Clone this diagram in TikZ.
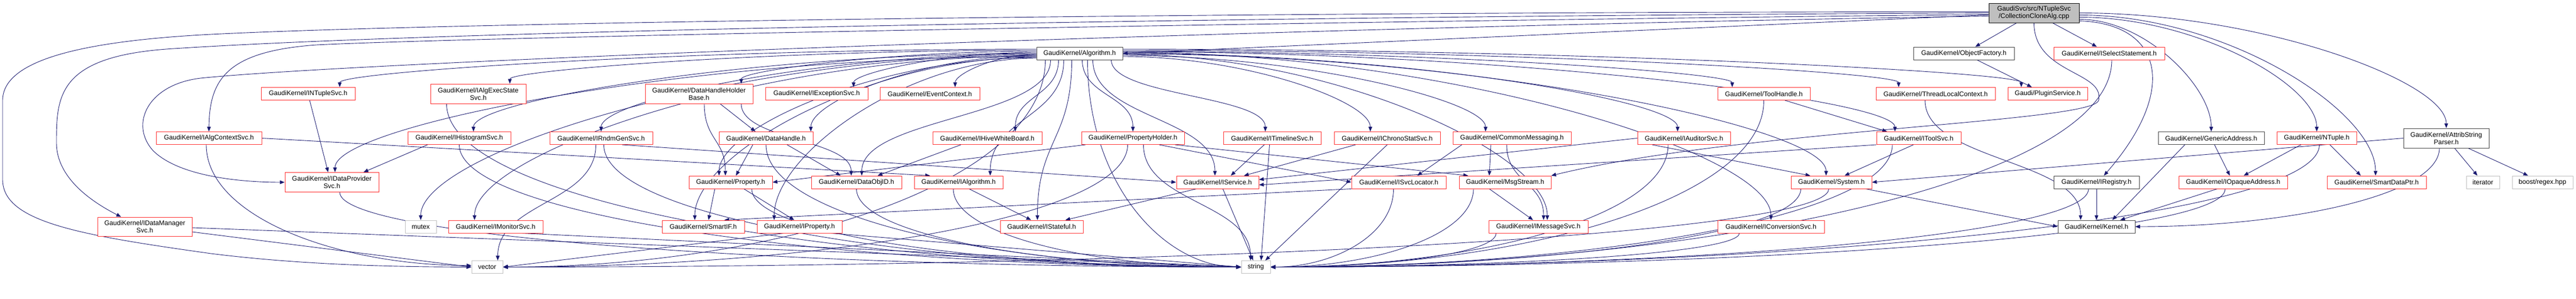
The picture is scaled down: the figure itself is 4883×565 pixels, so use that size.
\documentclass[tikz,border=0pt]{standalone}
\usepackage{fontspec}
\setmainfont{Liberation Sans}
\usetikzlibrary{arrows.meta,calc}
\pgfdeclarelayer{bgzero}
\pgfdeclarelayer{edges}
\pgfsetlayers{bgzero,edges,main}
\definecolor{edgecol}{HTML}{191970}
\definecolor{redb}{HTML}{FF2A2A}
\definecolor{grayb}{HTML}{BFBFBF}
\definecolor{blackb}{HTML}{404040}
\definecolor{rootfill}{HTML}{BFBFBF}
\tikzset{
 box/.style={draw, fill=white, line width=1pt, inner xsep=3pt, inner ysep=0pt, minimum height=24pt, font=\fontsize{12.6pt}{14pt}\selectfont, align=center, text=black},
 rbox/.style={box, draw=redb},
 kbox/.style={box, draw=blackb},
 gbox/.style={box, draw=grayb},
 rootbox/.style={box, draw=black, fill=rootfill},
 edge/.style={draw=edgecol, line width=0.9pt, -{Triangle[length=9pt,width=7pt]}},
}
\newcommand\edS[2]{\draw[edge] (#1) -- (#2);}
\newcommand\edH[2]{\draw[edge] let \p1=(#1),\p2=(#2) in (\p1) .. controls ({0.5*\x1+0.5*\x2},\y1) and (\x2,{0.4*\y1+0.6*\y2}) .. (\p2);}
\newcommand\edV[2]{\draw[edge] let \p1=(#1),\p2=(#2) in (\p1) .. controls (\x1,{0.4*\y1+0.6*\y2}) and ({0.5*\x1+0.5*\x2},\y2) .. (\p2);}
\newcommand\edC[2]{\draw[edge] let \p1=(#1),\p2=(#2) in (\p1) .. controls (\x1,{0.5*\y1+0.5*\y2}) and (\x2,{0.5*\y1+0.5*\y2}) .. (\p2);}
\begin{document}
\begin{tikzpicture}[x=1pt,y=-1pt]
\useasboundingbox (0,0) rectangle (4883,565);
\begin{pgfonlayer}{bgzero}
\fill[white] (0,0) rectangle (4883,565);
\end{pgfonlayer}
% row 0/1
\node[rootbox, minimum width=171pt, minimum height=37pt] (root) at (3855.5,24.5) {GaudiSvc/src/NTupleSvc\\/CollectionCloneAlg.cpp};
\node[kbox, minimum width=163pt] (alg) at (2046.5,101) {GaudiKernel/Algorithm.h};
\node[kbox, minimum width=191pt] (objf) at (3722.5,101) {GaudiKernel/ObjectFactory.h};
\node[rbox, minimum width=210pt] (isel) at (3998,101) {GaudiKernel/ISelectStatement.h};
% row 2
\node[rbox, minimum width=178pt] (intup) at (584,177.5) {GaudiKernel/INTupleSvc.h};
\node[rbox, minimum width=181pt, minimum height=37pt] (iaes) at (906.5,177.5) {GaudiKernel/IAlgExecState\\Svc.h};
\node[rbox, minimum width=204pt, minimum height=37pt] (dhhb) at (1325,177.5) {GaudiKernel/DataHandleHolder\\Base.h};
\node[rbox, minimum width=194pt] (iexc) at (1548,177.5) {GaudiKernel/IExceptionSvc.h};
\node[rbox, minimum width=189pt] (evc) at (1762.5,177.5) {GaudiKernel/EventContext.h};
\node[rbox, minimum width=175pt] (toolh) at (3343.5,177.5) {GaudiKernel/ToolHandle.h};
\node[rbox, minimum width=226pt] (tlc) at (3669,177.5) {GaudiKernel/ThreadLocalContext.h};
\node[rbox, minimum width=151pt] (plug) at (3881.5,177.5) {Gaudi/PluginService.h};
% row 3
\node[rbox, minimum width=200pt] (iacs) at (396,261.5) {GaudiKernel/IAlgContextSvc.h};
\node[rbox, minimum width=195pt] (ihist) at (870.5,261.5) {GaudiKernel/IHistogramSvc.h};
\node[rbox, minimum width=195pt] (irndm) at (1139.5,261.5) {GaudiKernel/IRndmGenSvc.h};
\node[rbox, minimum width=178pt] (dh) at (1452,261.5) {GaudiKernel/DataHandle.h};
\node[rbox, minimum width=207pt] (ihwb) at (1871.5,261.5) {GaudiKernel/IHiveWhiteBoard.h};
\node[rbox, minimum width=195pt] (ph) at (2147.5,261.5) {GaudiKernel/PropertyHolder.h};
\node[rbox, minimum width=185pt] (itl) at (2411.5,261.5) {GaudiKernel/ITimelineSvc.h};
\node[rbox, minimum width=201pt] (ichr) at (2629.5,261.5) {GaudiKernel/IChronoStatSvc.h};
\node[rbox, minimum width=224pt] (cmsg) at (2866,261.5) {GaudiKernel/CommonMessaging.h};
\node[rbox, minimum width=176pt] (iaud) at (3192,261.5) {GaudiKernel/IAuditorSvc.h};
\node[rbox, minimum width=160pt] (itool) at (3637,261.5) {GaudiKernel/IToolSvc.h};
\node[kbox, minimum width=201pt] (gen) at (4191.5,261.5) {GaudiKernel/GenericAddress.h};
\node[rbox, minimum width=151pt] (ntup) at (4391.5,261.5) {GaudiKernel/NTuple.h};
\node[kbox, minimum width=162pt, minimum height=37pt] (asp) at (4637,261.5) {GaudiKernel/AttribString\\Parser.h};
% row 4
\node[rbox, minimum width=178pt, minimum height=37pt] (idps) at (629,345) {GaudiKernel/IDataProvider\\Svc.h};
\node[rbox, minimum width=158pt] (prop) at (1385,345) {GaudiKernel/Property.h};
\node[rbox, minimum width=171pt] (doid) at (1623.5,345) {GaudiKernel/DataObjID.h};
\node[rbox, minimum width=168pt] (ialg) at (1817,345) {GaudiKernel/IAlgorithm.h};
\node[rbox, minimum width=156pt] (isvc) at (2308,345) {GaudiKernel/IService.h};
\node[rbox, minimum width=179pt] (iloc) at (2651.5,345) {GaudiKernel/ISvcLocator.h};
\node[rbox, minimum width=174pt] (msg) at (2853,345) {GaudiKernel/MsgStream.h};
\node[rbox, minimum width=153pt] (sys) at (3471.5,345) {GaudiKernel/System.h};
\node[kbox, minimum width=162pt] (ireg) at (3974,345) {GaudiKernel/IRegistry.h};
\node[rbox, minimum width=206pt] (iopq) at (4233,345) {GaudiKernel/IOpaqueAddress.h};
\node[rbox, minimum width=188pt] (sdp) at (4505,345) {GaudiKernel/SmartDataPtr.h};
\node[gbox, minimum width=63pt] (iter) at (4706.5,345) {iterator};
\node[gbox, minimum width=115pt] (regex) at (4819.5,345) {boost/regex.hpp};
% row 5
\node[rbox, minimum width=179pt, minimum height=36pt] (idms) at (274.5,429) {GaudiKernel/IDataManager\\Svc.h};
\node[gbox, minimum width=59pt] (mutex) at (797.5,429) {mutex};
\node[rbox, minimum width=179pt] (imon) at (939.5,429) {GaudiKernel/IMonitorSvc.h};
\node[rbox, minimum width=156pt] (sif) at (1333,429) {GaudiKernel/SmartIF.h};
\node[rbox, minimum width=161pt] (iprop) at (1515.5,429) {GaudiKernel/IProperty.h};
\node[rbox, minimum width=157pt] (istf) at (1974.5,429) {GaudiKernel/IStateful.h};
\node[rbox, minimum width=188pt] (imsg) at (2916,429) {GaudiKernel/IMessageSvc.h};
\node[rbox, minimum width=202pt] (iconv) at (3357,429) {GaudiKernel/IConversionSvc.h};
\node[kbox, minimum width=146pt] (kern) at (3974,429) {GaudiKernel/Kernel.h};
% row 6
\node[gbox, minimum width=59pt] (vec) at (923.5,505.5) {vector};
\node[gbox, minimum width=55pt] (str) at (2380.5,505.5) {string};

\begin{pgfonlayer}{edges}
% root
\draw[edge] (root) -- (alg.east);
\edS{root}{objf}
\edS{root}{isel}
\draw[edge] (root.south) .. controls (3856,140) and (3990,135) .. (3978,190) .. controls (3968,232) and (3300,245) .. (msg.north east);
\edH{root.east}{asp.north}
\edH{[yshift=-4pt]root.east}{[xshift=-2pt]sdp.north}
\edH{[yshift=-8pt]root.east}{ntup.north}
\edH{[yshift=-12pt]root.east}{gen.north}
\draw[edge] ([yshift=-15pt]root.east) .. controls (4100,45) and (4130,170) .. ([xshift=14pt]ireg.north);
\draw[edge] ([yshift=2pt]root.west) .. controls (2500,22) and (900,40) .. (400,65) .. controls (150,78) and (5,115) .. (5,190) -- (5,340) .. controls (5,420) and (150,445) .. (400,480) .. controls (600,505) and (800,505) .. (vec.west);
\draw[edge] (root.west) .. controls (2500,30) and (900,55) .. (330,92) .. controls (110,105) and (107,180) .. (107,270) .. controls (107,340) and (180,385) .. ([xshift=-45pt]idms.north);
\draw[edge] ([yshift=-3pt]root.west) .. controls (2500,40) and (900,70) .. (600,85) .. controls (430,97) and (397,150) .. (iacs.north);
\draw[edge] ([yshift=-6pt]root.west) .. controls (2500,50) and (700,115) .. (380,148) .. controls (280,160) and (245,235) .. (290,285) .. controls (340,335) and (460,345) .. (idps.west);
\edS{[xshift=25pt]objf.south}{[xshift=-30pt]plug.north}
\edV{[xshift=5pt]isel.south}{str.east}
% Algorithm, left side
\edH{[yshift=8pt]alg.west}{[xshift=60pt]intup.north}
\edH{[yshift=6pt]alg.west}{[xshift=60pt]iaes.north}
\edH{[yshift=4pt]alg.west}{[xshift=80pt]dhhb.north}
\edH{[yshift=2pt]alg.west}{[xshift=70pt]iexc.north}
\edH{[yshift=-2pt]alg.west}{[xshift=48pt]evc.north}
\edH{alg.west}{[xshift=27pt]ihist.north}
\edH{[yshift=-1pt]alg.west}{irndm.north}
\edH{[yshift=-4pt]alg.west}{[xshift=85pt]dh.north}
\edH{[yshift=-6pt]alg.west}{[xshift=6pt]idps.north}
\edH{[yshift=-8pt]alg.west}{[xshift=-22pt]prop.north}
\edH{[yshift=-3pt]alg.west}{mutex.north}
\edH{[yshift=-5pt]alg.west}{[xshift=-40pt]imon.north}
\edH{[yshift=-7pt]alg.west}{[xshift=-16pt]sif.north}
\edH{[yshift=-9pt]alg.west}{[xshift=-48pt]iprop.north}
% Algorithm, below
\edC{[xshift=-40pt]alg.south}{[xshift=53pt]ihwb.north}
\edC{[xshift=-55pt]alg.south}{[xshift=10pt]doid.north}
\edC{[xshift=-30pt]alg.south}{[xshift=60pt]ialg.north}
\edC{[xshift=-15pt]alg.south}{[xshift=-8pt]istf.north}
\edC{[xshift=5pt]alg.south}{ph.north}
\edC{[xshift=25pt]alg.south}{[xshift=-5pt]isvc.north}
\edC{[xshift=60pt]alg.south}{[xshift=-13pt]itl.north}
\edV{[xshift=-65pt]alg.south}{vec.east}
\edV{[xshift=15pt]alg.south}{str.west}
% Algorithm, right side
\edH{[yshift=-6pt]alg.east}{[xshift=-32pt]ichr.north}
\edH{[yshift=-4pt]alg.east}{[xshift=-50pt]cmsg.north}
\edH{[yshift=-2pt]alg.east}{[xshift=17pt]imsg.north}
\edH{alg.east}{[xshift=-12pt]iaud.north}
\edH{[yshift=2pt]alg.east}{iconv.north}
\edH{[yshift=-1pt]alg.east}{[xshift=-10pt]sys.north}
\edH{[yshift=4pt]alg.east}{[xshift=-60pt]toolh.north}
\edH{[yshift=3pt]alg.east}{[xshift=-45pt]itool.north}
\edH{[yshift=6pt]alg.east}{[xshift=-70pt]tlc.north}
\edH{[yshift=8pt]alg.east}{[xshift=-50pt]plug.north}
% left cluster
\edS{[xshift=3pt]intup.south}{[xshift=-7pt]idps.north}
\edV{[xshift=-60pt]iaes.south}{str.west}
\edS{iacs.east}{[xshift=-54pt]ialg.north}
\edV{[xshift=-5pt]iacs.south}{[yshift=3pt]vec.west}
\edS{[xshift=-60pt]ihist.south}{[xshift=60pt]idps.north}
\edV{ihist.south}{str.west}
\edC{[xshift=-10pt]irndm.south}{[xshift=20pt]vec.north}
\edV{[xshift=5pt]irndm.south}{str.west}
\edS{[xshift=40pt]irndm.south}{isvc.west}
\edS{[xshift=40pt]dhhb.south}{[xshift=-20pt]dh.north}
\edC{[xshift=10pt]dhhb.south}{[xshift=-10pt]prop.north}
\edC{[xshift=80pt]dhhb.south}{[xshift=-10pt]doid.north}
\edS{[xshift=-25pt]dh.south}{[xshift=10pt]prop.north}
\edS{[xshift=40pt]dh.south}{[xshift=-30pt]doid.north}
\edV{dh.south}{str.west}
\edS{[xshift=-30pt]prop.south}{[xshift=10pt]sif.north}
\edS{[xshift=25pt]prop.south}{[xshift=-10pt]iprop.north}
\edV{[xshift=40pt]prop.south}{str.west}
\edS{[xshift=-30pt]iprop.south}{vec.east}
\edS{[xshift=60pt]iprop.south}{str.west}
\edV{doid.south}{str.west}
\edS{[xshift=20pt]ialg.south}{[xshift=-20pt]istf.north}
\edV{[xshift=-10pt]ialg.south}{str.west}
\edS{[xshift=-50pt]ihwb.south}{[xshift=40pt]doid.north}
\edV{[xshift=15pt]idps.south}{str.west}
\edS{[yshift=-2pt]idms.east}{str.west}
\edS{[yshift=-10pt]idms.east}{vec.west}
\edS{[xshift=50pt]imon.south}{str.west}
% middle cluster
\edS{[xshift=-90pt]ph.south}{prop.east}
\edS{[xshift=50pt]ph.south}{iloc.west}
\edS{[xshift=80pt]ph.south}{[xshift=-70pt]msg.north}
\edC{[xshift=20pt]ph.south}{[xshift=-10pt]str.north}
\edV{[xshift=-10pt]ph.south}{vec.east}
\edS{[xshift=-40pt]isvc.south}{[xshift=45pt]istf.north}
\edS{[xshift=10pt]isvc.south}{[xshift=-5pt]str.north}
\edS{[xshift=-15pt]itl.south}{[xshift=25pt]isvc.north}
\edS{[xshift=-5pt]itl.south}{[xshift=10pt]str.north}
\edS{[xshift=-60pt]ichr.south}{[xshift=50pt]isvc.north}
\edS{ichr.south}{[xshift=18pt]str.north}
\edS{[xshift=-95pt]cmsg.south}{[xshift=35pt]iloc.north}
\edS{[xshift=-40pt]cmsg.south}{[xshift=-30pt]msg.north}
\edC{[xshift=-10pt]cmsg.south}{[xshift=10pt]imsg.north}
\edV{[xshift=-10pt]iloc.south}{str.east}
\edS{iloc.south west}{[xshift=40pt]sif.north}
\edS{[xshift=-30pt]msg.south}{[xshift=-10pt]imsg.north}
\edV{[xshift=-60pt]msg.south}{str.east}
\edV{[xshift=-80pt]imsg.south}{str.east}
\edS{iaud.west}{[yshift=5pt]isvc.east}
\edS{[xshift=-60pt]iaud.south}{[xshift=-40pt]sys.north}
\edV{[xshift=-30pt]iaud.south}{str.east}
\edS{itool.south west}{[yshift=-5pt]isvc.east}
\edS{[xshift=-10pt]itool.south}{[xshift=25pt]sys.north}
\edV{[xshift=-50pt]itool.south}{str.east}
\edS{[xshift=40pt]toolh.south}{[xshift=-60pt]itool.north}
\edV{toolh.south}{str.east}
% right cluster
\edC{[xshift=-20pt]tlc.south}{[xshift=-30pt]kern.north}
\edS{[xshift=65pt]sys.south}{kern.west}
\edV{[xshift=-58pt]sys.south}{str.east}
\edV{[xshift=-5pt]sys.south}{vec.east}
\edV{[xshift=-60pt]iconv.south}{str.east}
\edS{ireg}{kern}
\edV{[xshift=-15pt]ireg.south}{str.east}
\edS{[xshift=-50pt]gen.south}{[xshift=30pt]kern.north}
\edS{gen}{iopq}
\edS{[xshift=-30pt]iopq.south}{[xshift=45pt]kern.north}
\edV{[xshift=-15pt]iopq.south}{str.east}
\edS{[xshift=-30pt]ntup.south}{[xshift=20pt]iopq.north}
\edS{[xshift=25pt]ntup.south}{[xshift=-30pt]sdp.north}
\edV{[xshift=5pt]ntup.south}{str.east}
\edS{asp}{iter}
\edS{asp}{regex}
\edV{[xshift=-13pt]asp.south}{kern.east}
\edS{asp.west}{sys.east}
\end{pgfonlayer}
\end{tikzpicture}
\end{document}
